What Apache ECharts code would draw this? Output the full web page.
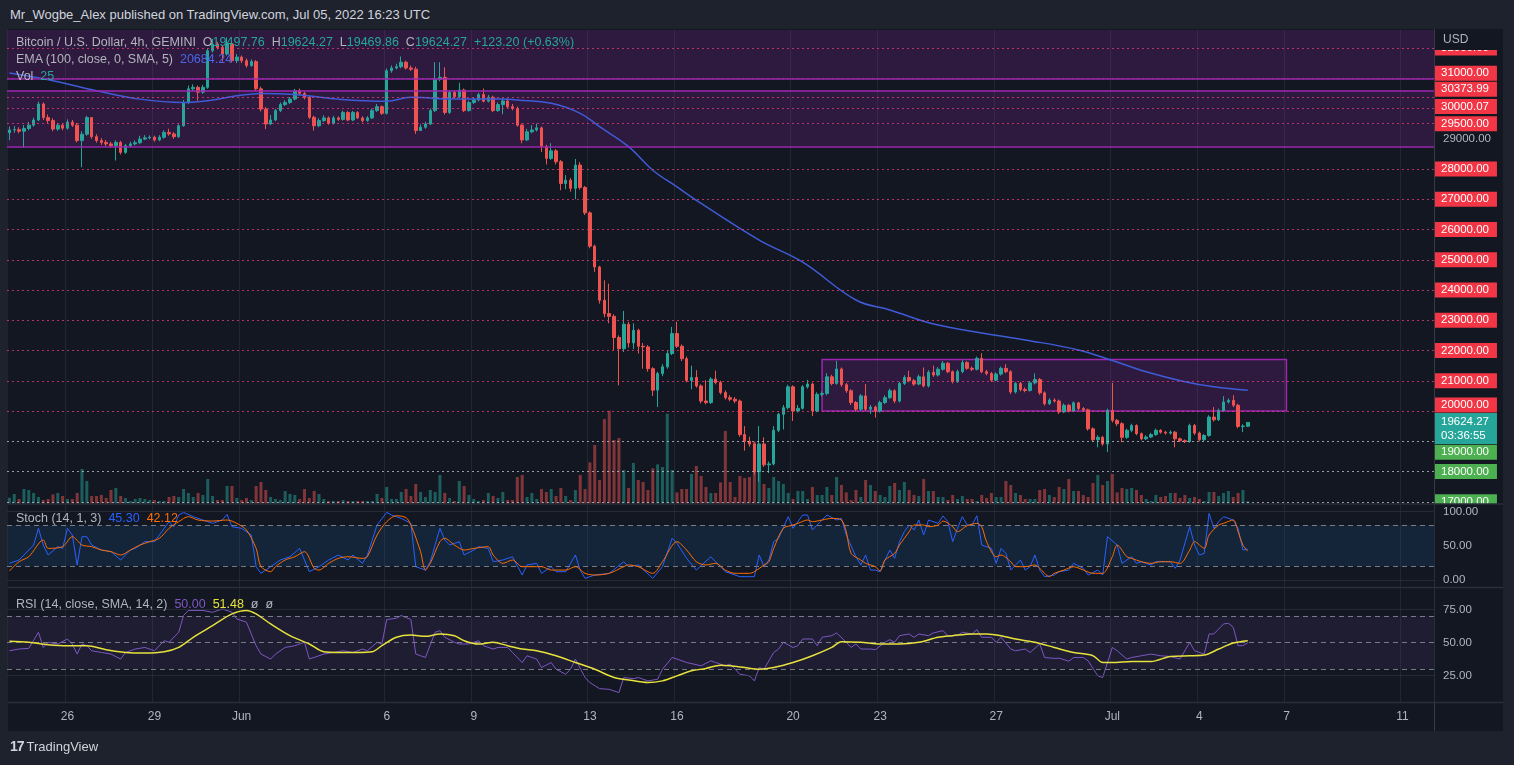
<!DOCTYPE html>
<html><head><meta charset="utf-8">
<script src="https://cdn.jsdelivr.net/npm/echarts@6/dist/echarts.min.js"></script>
<style>
html,body{margin:0;padding:0;background:#1e222d;width:1514px;height:765px;overflow:hidden;font-family:'Liberation Sans',Arial,sans-serif;}
#frame{position:absolute;left:8px;top:29px;width:1495px;height:702px;background:#131722;}
#chart{position:absolute;left:0;top:0;width:1514px;height:765px;}
.t{position:absolute;white-space:pre;font-size:12.5px;line-height:15px;color:#b2b5be;}
#title{position:absolute;left:10px;top:7px;font-size:13px;color:#d1d4dc;white-space:pre;}
#logo{position:absolute;left:10px;top:738px;font-size:13px;color:#d1d4dc;white-space:pre;}
#logo b{font-size:14px;letter-spacing:-1px;margin-right:3px;}
</style></head><body>
<div id="title">Mr_Wogbe_Alex published on TradingView.com, Jul 05, 2022 16:23 UTC</div>
<div id="frame"></div>
<div id="chart"></div>
<div class="t" id="lg1" style="left:16px;top:35px;"></div>
<div class="t" id="lg2" style="left:16px;top:52px;"></div>
<div class="t" id="lg3" style="left:16px;top:69px;"></div>
<div class="t" id="lg4" style="left:16px;top:511px;"></div>
<div class="t" id="lg5" style="left:16px;top:597px;"></div>
<div id="logo"><b>17</b>TradingView</div>
<script>
// ---------------- DATA ----------------
const closes = [
29290,29300,29250,29340,29450,29620,30150,29700,29600,29320,
29450,29350,29550,29450,28940,29150,29700,29070,28940,28880,
28830,28770,28880,28550,28770,28830,28870,28990,29030,29050,
28960,29050,29210,29160,29070,29430,30200,30650,30700,30540,
30700,31910,32130,32020,31800,32130,31580,31700,31580,31420,
31550,30650,29980,29490,29620,29930,30130,30200,30310,30590,
30500,30370,29710,29430,29600,29690,29510,29690,29640,29870,
29620,29870,29690,29600,29690,29930,30060,29840,31250,31340,
31380,31530,31340,31300,29270,29380,29490,29930,30970,31030,
29870,30530,30390,30610,29930,30200,30280,30460,30240,30370,
29930,30130,30250,30060,30000,29450,28960,29230,29290,29360,
28740,28350,28600,28240,27520,27630,27360,28130,27390,26550,
25450,24760,23660,23220,23130,22430,22060,22870,22250,22670,
22140,22120,21400,20690,21240,21460,21900,22560,22140,21730,
21010,21110,20830,20330,20280,21055,20940,20610,20440,20390,
20330,19220,19000,18910,18000,18910,18220,18250,19360,19890,
20110,20800,20000,20090,20800,20890,20000,20550,20580,21130,
20910,21390,20870,20670,20280,20060,20500,20060,20130,20000,
20280,20440,20670,20330,20910,21110,21000,20890,21130,20830,
21280,21190,21380,21580,21300,20970,21300,21600,21410,21380,
21740,21300,21240,21020,21220,21410,21300,20630,20910,20710,
20680,20930,21040,20600,20240,20360,20330,19970,20190,20000,
20270,20080,20040,19410,19050,19130,18910,20020,19690,19580,
19130,19360,19520,19250,19080,19140,19220,19360,19300,19270,
19300,19080,19020,18990,19520,19270,19050,19190,19800,19710,
20020,20300,20350,20190,19490,19501.07,19624.27];
const highs = [
29400,29420,29380,29450,29560,29700,30230,30200,29800,29680,
29520,29500,29640,29620,29520,29250,29760,29720,29150,29020,
28960,28900,28950,28930,28830,28900,28950,29100,29120,29110,
29100,29120,29280,29330,29220,29480,30280,30760,30800,30760,
30780,31980,32300,32200,32080,32350,32200,31800,31750,31650,
31620,31600,30720,30050,29780,29990,30200,30280,30380,30650,
30660,30560,30420,29760,29680,29780,29740,29760,29740,29930,
29910,29920,29910,29740,29750,30000,30150,30100,31320,31420,
31480,31720,31580,31420,31380,29480,29560,30000,31530,31530,
31360,30590,30600,30850,30660,30260,30350,30520,30660,30450,
30420,30200,30330,30330,30150,30060,29500,29330,29450,29500,
29400,28800,28850,28660,28300,27800,27700,28330,28230,27440,
26600,25500,24800,24320,24210,23200,22500,23310,22950,22900,
22720,22250,22180,21450,21300,21550,22000,22780,22950,22200,
21800,21500,21350,20880,21020,21120,21330,21000,20680,20520,
20460,20380,19500,19150,18960,19500,19130,18330,19500,19940,
20200,20870,20850,20200,20860,21030,20940,20620,20650,21250,
21200,21660,21440,20930,20720,20330,20560,20890,20200,20180,
20340,20520,20740,20720,20960,21180,21330,21060,21200,21440,
21350,21500,21450,21650,21620,21340,21370,21680,21650,21470,
21800,21910,21360,21290,21280,21470,21550,21350,20960,20960,
20780,20990,21240,21090,20650,20420,20420,20380,20250,20230,
20320,20300,20130,20080,19460,19200,19180,20080,20930,19740,
19630,19420,19580,19560,19290,19200,19280,19420,19400,19340,
19360,19340,19120,19060,19580,19570,19320,19240,19860,20130,
20080,20490,20420,20520,20240,19560,19624.27];
const lows = [
28950,29200,29180,28700,29280,29400,29580,29620,29500,29250,
29260,29280,29300,29390,28880,28060,29100,29000,28870,28800,
28760,28700,28280,28480,28500,28720,28780,28820,28950,28980,
28900,28920,29000,29100,29000,29030,29400,30150,30580,30260,
30480,30650,31850,31950,31550,31750,31520,31500,31500,31350,
31380,30580,29900,29320,29450,29580,29880,30080,30150,30270,
30440,30300,29650,29270,29380,29550,29460,29470,29590,29600,
29580,29580,29650,29540,29560,29650,29890,29790,29800,31180,
31290,31330,31290,31240,29160,29270,29330,29450,29880,30900,
29800,29820,30330,30350,29880,29900,30150,30230,30200,30200,
29880,29890,29810,30000,29940,29400,28850,28920,29180,29240,
28560,28150,28300,28150,27300,27330,27250,27000,27320,26480,
25380,24600,23550,23100,22900,22010,20850,21950,22100,22050,
21900,21400,21300,20500,20130,21150,21400,21850,22080,21650,
20950,20720,20770,20250,20220,20230,20880,20550,20380,20320,
20260,19150,18690,18820,17900,17670,18150,17950,18200,19300,
19390,20050,19670,19950,20050,20740,19830,19960,20480,20520,
20850,20870,20800,20600,20200,19990,20000,20000,19900,19780,
19950,20230,20400,20260,20280,20860,20950,20830,20850,20780,
20780,21130,21140,21330,21250,20910,20930,21250,21360,21320,
21340,21250,21180,20960,20980,21170,21250,20560,20580,20650,
20620,20640,20880,20540,20180,20200,20280,19900,19930,19950,
19960,20030,19990,19350,18990,18800,18850,18640,19620,19500,
18970,19080,19300,19200,19030,19040,19100,19180,19250,19220,
19220,18800,18970,18940,18950,19210,19000,19010,19150,19650,
19670,19980,20250,20130,19430,19300,19469.86];
const firstOpen = 29200;
const lastOpen = 19497.76;
const volumes = [
60,97,47,147,137,107,67,37,47,93,
107,77,47,47,107,347,227,77,77,87,
57,137,157,77,57,27,47,57,47,37,
37,27,27,67,77,67,147,107,67,107,
87,247,77,37,37,177,177,57,37,57,
37,177,217,137,67,47,37,127,97,87,
47,147,57,127,97,47,27,27,27,37,
27,27,27,27,27,27,97,57,167,47,
47,117,147,77,197,117,67,137,117,287,
107,57,27,227,177,87,47,27,37,107,
77,57,117,37,37,267,287,67,107,47,
147,117,147,77,157,77,37,137,287,147,
413,587,237,847,930,637,657,337,157,407,
237,217,137,353,393,367,900,337,113,147,
147,297,377,277,167,107,107,213,727,217,
67,277,257,267,620,560,197,157,267,227,
197,107,47,127,127,47,167,87,87,167,
87,267,187,113,37,137,67,237,187,127,
87,67,177,207,137,217,137,87,77,247,
127,127,67,67,37,87,47,77,47,47,
27,87,57,107,67,67,227,187,107,87,
47,47,47,137,147,87,67,167,147,247,
127,127,87,67,207,287,187,227,297,113,
157,147,157,137,87,47,27,87,67,77,
107,107,57,87,57,67,47,27,117,117,
77,107,127,67,107,137,25];
// EMA(100) line, read as [bar slot, price]
const emaPoints = [[0,31170],[9,30920],[18,30590],[27,30310],[36,30200],[41,30260],[47,30420],[52,30500],[59,30460],[68,30310],[78,30240],[83,30370],[92,30310],[102,30310],[105,30280],[112,30170],[118,29840],[122,29400],[128,28740],[133,27960],[138,27410],[143,26860],[155,25650],[164,24920],[175,23670],[182,23340],[192,22840],[210,22350],[221,22020],[228,21670],[235,21300],[243,20970],[249,20800],[256,20684.24]];
const stochK = [[0,24.4],[2,29.3],[3,36.6],[5,51.2],[6,75.6],[7,51.2],[8,36.6],[10,48.8],[11,46.3],[12,75.6],[13,65.9],[14,22.0],[15,63.4],[16,63.4],[17,51.2],[19,43.9],[21,41.5],[23,29.3],[25,43.9],[26,46.3],[28,56.1],[30,56.1],[32,75.6],[33,85.4],[34,78.0],[35,95.1],[36,99.0],[38,92.7],[40,87.8],[42,82.9],[44,87.8],[45,96.1],[46,78.0],[48,75.6],[50,65.9],[51,19.5],[52,9.8],[54,19.5],[56,29.3],[58,34.1],[60,46.3],[62,12.2],[64,19.5],[66,29.3],[68,36.6],[70,29.3],[71,36.6],[73,24.4],[74,36.6],[76,80.5],[78,99.0],[79,95.1],[81,90.2],[83,82.9],[84,19.5],[86,14.6],[87,26.8],[89,75.6],[90,58.5],[91,51.2],[93,56.1],[94,36.6],[96,43.9],[97,48.8],[99,46.3],[100,26.8],[102,29.3],[104,34.1],[106,7.3],[107,22.0],[109,24.4],[110,9.8],[112,19.5],[113,12.2],[115,12.2],[117,36.6],[118,14.6],[119,2.4],[121,7.3],[124,9.8],[127,26.8],[128,19.5],[130,22.0],[133,2.4],[135,19.5],[137,61.0],[138,53.7],[140,31.7],[142,14.6],[145,34.1],[146,26.8],[148,12.2],[151,4.9],[153,4.9],[154,4.9],[155,36.6],[156,19.5],[157,29.3],[158,56.1],[159,61.0],[161,92.7],[162,75.6],[164,95.1],[165,95.1],[166,73.2],[168,87.8],[169,95.1],[171,87.8],[172,90.2],[173,65.9],[175,34.1],[176,22.0],[177,36.6],[178,14.6],[179,14.6],[180,12.2],[181,29.3],[182,43.9],[183,31.7],[184,56.1],[185,70.7],[186,80.5],[187,73.2],[188,87.8],[189,65.9],[190,87.8],[192,82.9],[193,93.7],[194,85.4],[195,56.1],[196,75.6],[197,92.7],[198,80.5],[199,80.5],[200,94.1],[201,51.2],[203,46.3],[204,24.4],[205,46.3],[206,39.0],[207,14.6],[209,29.3],[210,14.6],[211,19.5],[212,36.6],[213,14.6],[214,4.9],[216,7.3],[217,12.2],[219,14.6],[220,24.4],[222,17.1],[223,7.3],[225,14.6],[226,7.3],[227,63.4],[229,51.2],[230,24.4],[232,34.1],[233,24.4],[234,26.8],[236,22.0],[237,26.8],[239,26.8],[240,26.8],[241,17.1],[242,29.3],[244,78.0],[245,51.2],[246,36.6],[247,39.0],[248,97.6],[249,75.6],[250,85.4],[251,92.7],[253,87.8],[254,75.6],[255,43.9],[256,45.30]];
const stochD = [[0,13.2],[2,26.8],[4,34.1],[7,58.5],[8,46.3],[11,48.8],[13,63.4],[15,51.2],[17,48.8],[19,43.9],[21,41.5],[23,36.6],[25,43.9],[27,51.2],[29,56.1],[31,61.0],[33,75.6],[35,85.4],[37,92.7],[39,87.8],[42,86.3],[45,87.8],[47,82.9],[49,73.2],[51,46.3],[52,19.5],[54,12.2],[55,19.5],[57,29.3],[59,34.1],[61,41.5],[63,17.1],[64,14.6],[66,24.4],[68,31.7],[70,34.1],[73,31.7],[74,34.1],[76,65.9],[78,85.4],[80,94.1],[82,91.2],[83,80.5],[85,41.5],[86,14.6],[87,24.4],[89,56.1],[90,61.0],[92,51.2],[94,43.9],[96,46.3],[99,48.8],[100,36.6],[102,24.4],[104,29.3],[106,19.5],[108,19.5],[110,19.5],[112,14.6],[115,14.6],[117,19.5],[119,9.8],[121,7.3],[124,9.8],[127,19.5],[128,22.0],[130,19.5],[133,9.8],[135,26.8],[138,56.1],[140,43.9],[142,26.8],[144,22.0],[146,24.4],[148,14.6],[150,9.8],[153,9.8],[154,12.2],[156,22.0],[157,26.8],[158,46.3],[160,75.6],[162,80.5],[163,82.9],[165,87.8],[166,85.4],[168,87.8],[170,90.2],[172,87.8],[173,70.7],[174,39.0],[176,29.3],[177,24.4],[179,19.5],[180,13.2],[181,29.3],[183,39.0],[184,51.2],[186,70.7],[187,80.5],[189,80.5],[190,78.0],[192,80.5],[193,86.3],[195,78.0],[196,70.7],[198,79.5],[200,82.9],[201,78.0],[202,56.1],[204,34.1],[205,36.6],[207,26.8],[208,19.5],[210,19.5],[212,22.0],[213,17.1],[215,4.9],[216,9.8],[218,14.6],[220,19.5],[222,14.6],[224,9.8],[226,9.8],[228,34.1],[229,51.2],[231,34.1],[232,31.7],[234,26.8],[236,24.4],[238,26.8],[240,26.8],[242,24.4],[244,43.9],[245,56.1],[247,46.3],[248,65.9],[250,80.5],[251,82.9],[253,87.8],[254,70.7],[255,51.2],[256,42.12]];
const rsi = [[0,43.9],[2,45.2],[4,45.7],[6,57.9],[7,46.4],[8,50.3],[10,49.0],[12,52.8],[13,49.0],[14,41.4],[15,49.0],[16,47.7],[17,43.9],[19,42.6],[21,41.4],[23,37.6],[24,42.6],[26,45.2],[28,46.4],[30,43.9],[32,51.5],[33,50.3],[35,57.9],[36,70.6],[37,74.4],[38,74.4],[40,74.4],[42,73.0],[44,75.5],[46,73.1],[47,68.0],[49,65.5],[51,47.7],[52,41.4],[54,37.6],[55,41.4],[57,46.4],[59,47.7],[61,50.3],[62,37.6],[64,40.1],[65,41.4],[67,42.6],[69,43.9],[71,42.6],[73,45.2],[74,43.9],[76,50.3],[77,49.0],[78,67.5],[80,68.5],[81,70.6],[83,67.5],[84,41.4],[85,40.1],[86,38.8],[88,57.9],[89,59.1],[90,54.1],[92,50.3],[93,49.0],[95,49.0],[97,51.5],[98,47.7],[100,45.2],[101,46.4],[103,46.4],[104,42.6],[106,35.0],[107,40.1],[109,37.6],[110,31.2],[112,35.0],[113,29.9],[115,26.1],[116,29.9],[117,37.6],[119,23.6],[120,19.8],[122,15.2],[124,14.7],[126,12.2],[127,23.6],[129,22.8],[130,23.6],[132,21.1],[134,22.3],[135,29.9],[137,38.8],[138,37.6],[140,35.0],[143,32.5],[145,36.3],[146,35.0],[148,32.5],[149,33.8],[151,26.1],[153,24.9],[154,21.1],[155,31.2],[156,29.9],[158,42.6],[159,45.2],[160,50.3],[162,46.4],[163,47.7],[164,52.8],[166,52.8],[167,47.7],[168,54.1],[170,55.3],[171,57.4],[173,50.3],[174,46.4],[175,49.0],[176,45.2],[178,45.2],[179,44.7],[181,50.3],[182,52.3],[183,50.3],[184,55.3],[186,56.6],[187,54.1],[188,56.6],[190,55.3],[191,57.4],[193,59.1],[194,55.3],[196,55.3],[197,57.9],[199,56.6],[200,59.9],[201,54.1],[203,54.1],[204,50.3],[205,54.1],[207,45.2],[208,43.9],[210,45.2],[211,42.6],[213,49.0],[214,38.8],[216,38.1],[217,38.3],[219,36.0],[220,38.8],[222,38.8],[223,36.3],[225,24.9],[226,23.6],[228,46.4],[229,43.9],[231,37.6],[232,38.8],[234,40.1],[236,41.4],[238,40.1],[240,39.6],[242,37.6],[244,50.3],[245,43.9],[247,41.4],[248,56.6],[249,56.6],[251,64.2],[252,64.7],[253,61.7],[254,47.7],[255,47.7],[256,50.00]];
const rsiSma = [[0,51.0],[4,50.3],[8,48.5],[12,47.7],[16,47.7],[20,44.7],[24,42.6],[28,42.1],[32,43.1],[35,46.4],[38,54.1],[42,62.9],[46,71.8],[49,74.4],[51,71.8],[54,64.2],[58,55.3],[62,49.0],[65,43.1],[68,42.6],[72,42.6],[75,43.1],[77,47.7],[80,54.1],[83,55.8],[86,54.8],[89,56.6],[92,55.3],[94,51.5],[97,49.0],[100,50.3],[103,47.7],[106,45.2],[109,43.9],[113,40.1],[117,35.0],[121,29.9],[125,23.6],[128,21.8],[132,19.8],[135,21.1],[138,24.9],[141,28.7],[144,30.5],[147,33.0],[149,32.5],[152,31.2],[155,29.9],[158,31.2],[162,35.0],[166,40.1],[170,46.4],[172,50.8],[176,50.3],[180,49.0],[184,49.0],[188,50.3],[192,54.1],[195,55.3],[199,56.6],[202,56.6],[205,55.3],[208,52.8],[212,50.3],[216,46.4],[220,42.6],[224,40.1],[226,35.0],[228,35.0],[232,35.8],[236,35.8],[240,39.6],[244,40.1],[247,40.6],[250,45.2],[253,49.7],[256,51.48]];
// horizontal price levels drawn on the chart, and zones
const priceLevels = [32000,31000,30373.99,30000.07,29500,28000,27000,26000,25000,24000,23000,22000,21000,20000,19000,18000,17000];
const zoneTop = [31000, 32595];
const zoneMid = [28750, 30600];
const zoneBox = {fromSlot:168, toSlot:264, low:20000, high:21700};
const countdown = '03:36:55';
const tickLabels = [
 ['2022-05-26 00:00','26'],['2022-05-29 00:00','29'],['2022-06-01 00:00','Jun'],['2022-06-06 00:00','6'],
 ['2022-06-09 00:00','9'],['2022-06-13 00:00','13'],['2022-06-16 00:00','16'],['2022-06-20 00:00','20'],
 ['2022-06-23 00:00','23'],['2022-06-27 00:00','27'],['2022-07-01 00:00','Jul'],['2022-07-04 00:00','4'],
 ['2022-07-07 00:00','7'],['2022-07-11 00:00','11']];
// ---------------- BUILD ----------------
const SLOT_MS = 4*3600*1000, START = Date.UTC(2022,4,24,0,0,0), SLOTS = 295;
const pad = n => String(n).padStart(2,'0');
const fmt = t => { const d = new Date(t); return d.getUTCFullYear()+'-'+pad(d.getUTCMonth()+1)+'-'+pad(d.getUTCDate())+' '+pad(d.getUTCHours())+':'+pad(d.getUTCMinutes()); };
const categories = Array.from({length:SLOTS}, (_,k) => fmt(START + k*SLOT_MS));
const tickMap = Object.fromEntries(tickLabels);
const isTick = (i, v) => tickMap[v] !== undefined;

const opens = closes.map((c,i) => i === 0 ? firstOpen : closes[i-1]);
opens[opens.length-1] = lastOpen;
const N = closes.length;
const lastClose = closes[N-1];
const UP = '#26a69a', DOWN = '#ef5350';
const FONT = "'Liberation Sans', Arial, sans-serif";
const BG = '#131722';
const PURPLE = '#9c27b0';

const candleData = closes.map((c,i) => [opens[i], c, lows[i], highs[i]]);
const volData = volumes.map((v,i) => ({value:v, itemStyle:{color: closes[i] >= opens[i] ? 'rgba(38,166,154,0.5)' : 'rgba(239,83,80,0.5)'}}));

const labelShift = {31000:-5, 30373.99:-8, 30000.07:-2, 20000:-6, 19000:11};
const levelLines = priceLevels.map(p => {
  const above = p > lastClose;
  return {yAxis:p,
    lineStyle:{color: above ? 'rgba(233,62,120,0.75)' : 'rgba(210,212,220,0.7)', type:[2,3], width:1},
    label:{formatter: p.toFixed(2), backgroundColor: above ? '#f23645' : '#4caf50', offset:[0, labelShift[p] || 0]}};
});
// solid borders of the two full-width zones
[zoneTop[0], zoneMid[0], zoneMid[1]].forEach(p => levelLines.push({yAxis:p, lineStyle:{color:PURPLE, type:'solid', width:1.5}, label:{show:false}}));
levelLines.push({yAxis:lastClose, lineStyle:{color:'rgba(0,0,0,0)', width:0},
  label:{show:true, formatter: lastClose.toFixed(2)+'\n'+countdown, backgroundColor:'#26a69a', offset:[0,6], lineHeight:14, padding:[2,8,1,6]}});

function xAx(gi, showLabel){
  return {type:'category', gridIndex:gi, data:categories, boundaryGap:true,
    axisLine:{show:false}, axisTick:{show:false},
    axisLabel:{show:showLabel, interval:isTick, formatter:v => tickMap[v] || '', color:'#b2b5be', fontSize:12, margin:9, fontFamily:FONT},
    splitLine:{show:true, interval:isTick, lineStyle:{color:'rgba(54,58,69,0.45)', width:1}}};
}
function yAx(gi, min, max, labels, extra){
  return Object.assign({type:'value', gridIndex:gi, position:'right', min, max, scale:true,
    axisLine:{show:true, lineStyle:{color:'#2a2e39'}}, axisTick:{show:false},
    splitLine:{show:false},
    axisLabel:{show:labels.length>0, customValues:labels, formatter:v => Number(v).toFixed(2), color:'#b2b5be', fontSize:11.5, margin:9, fontFamily:FONT}}, extra||{});
}
const dashed = {type:[5,4], color:'#787b86', width:1};
const faint = {type:'solid', color:'rgba(54,58,69,0.55)', width:1};
const hl = (v, st) => ({yAxis:v, lineStyle:st});

const chart = echarts.init(document.getElementById('chart'), null, {renderer:'canvas'});
chart.setOption({
  animation:false,
  backgroundColor:'transparent',
  textStyle:{fontFamily:FONT},
  grid:[
    {left:7, width:1427, top:30, height:473.7},
    {left:7, width:1427, top:504.5, height:82.5},
    {left:7, width:1427, top:588, height:114}
  ],
  xAxis:[xAx(0,false), xAx(1,false), xAx(2,true)],
  yAxis:[
    yAx(0, 16936, 32595, [29000]),
    {type:'value', gridIndex:0, show:false, min:0, max:4737},
    yAx(1, -10.2, 110.5, [0,50,100], {z:60}),
    yAx(2, 5.1, 91.4, [25,50,75], {z:60})
  ],
  graphic:[
    {type:'rect', z:50, shape:{x:1435, y:30, width:68, height:20}, style:{fill:BG}},
    {type:'text', z:51, x:1443, y:34, style:{text:'USD', fill:'#b2b5be', font:"12px 'Liberation Sans', Arial"}},
    {type:'rect', z:50, shape:{x:1435, y:504, width:68, height:16}, style:{fill:BG}},
    {type:'line', z:55, shape:{x1:8, y1:504, x2:1503, y2:504}, style:{stroke:'#2a2e39', lineWidth:1.5}},
    {type:'line', z:55, shape:{x1:8, y1:587.5, x2:1503, y2:587.5}, style:{stroke:'#2a2e39', lineWidth:1.5}},
    {type:'line', z:55, shape:{x1:8, y1:702.5, x2:1503, y2:702.5}, style:{stroke:'#2a2e39', lineWidth:1.5}},
    {type:'line', z:55, shape:{x1:1434.5, y1:29, x2:1434.5, y2:731}, style:{stroke:'#363a45', lineWidth:1}}
  ],
  series:[
    {type:'bar', name:'Vol', xAxisIndex:0, yAxisIndex:1, data:volData, barWidth:3, z:1, silent:true},
    {type:'candlestick', name:'BTCUSD', xAxisIndex:0, yAxisIndex:0, data:candleData, barWidth:3, z:3,
      itemStyle:{color:UP, color0:DOWN, borderColor:UP, borderColor0:DOWN, borderWidth:1},
      markArea:{silent:true, data:[
        [{yAxis:zoneTop[0], itemStyle:{color:'rgba(156,39,176,0.2)', borderWidth:0}},{yAxis:zoneTop[1]}],
        [{yAxis:zoneMid[0], itemStyle:{color:'rgba(156,39,176,0.2)', borderWidth:0}},{yAxis:zoneMid[1]}],
        [{xAxis:categories[zoneBox.fromSlot], yAxis:zoneBox.low, itemStyle:{color:'rgba(156,39,176,0.2)', borderColor:PURPLE, borderWidth:1.5}},{xAxis:categories[zoneBox.toSlot], yAxis:zoneBox.high}]
      ]},
      markLine:{silent:true, symbol:['none','none'], animation:false,
        label:{show:true, position:'end', distance:1, color:'#fff', fontSize:11.5, padding:[2,8,1,6], fontFamily:FONT},
        data:levelLines}
    },
    {type:'line', name:'EMA', xAxisIndex:0, yAxisIndex:0, data:emaPoints, smooth:0.4, showSymbol:false, z:4,
      lineStyle:{color:'#3f5bd8', width:1.5}},
    {type:'line', name:'%K', xAxisIndex:1, yAxisIndex:2, data:stochK, showSymbol:false, z:4,
      lineStyle:{color:'#2962ff', width:1},
      markArea:{silent:true, itemStyle:{color:'rgba(33,150,243,0.11)'}, data:[[{yAxis:20},{yAxis:80}]]},
      markLine:{silent:true, symbol:['none','none'], label:{show:false}, data:[hl(80,dashed), hl(20,dashed), hl(0,faint), hl(100,faint)]}},
    {type:'line', name:'%D', xAxisIndex:1, yAxisIndex:2, data:stochD, smooth:0.3, showSymbol:false, z:5,
      lineStyle:{color:'#ff6d00', width:1}},
    {type:'line', name:'RSI', xAxisIndex:2, yAxisIndex:3, data:rsi, showSymbol:false, z:4,
      lineStyle:{color:'#7e57c2', width:1},
      markArea:{silent:true, itemStyle:{color:'rgba(126,87,194,0.1)'}, data:[[{yAxis:30},{yAxis:70}]]},
      markLine:{silent:true, symbol:['none','none'], label:{show:false}, data:[hl(70,dashed), hl(50,dashed), hl(30,dashed), hl(25,faint), hl(75,faint)]}},
    {type:'line', name:'RSI SMA', xAxisIndex:2, yAxisIndex:3, data:rsiSma, smooth:0.3, showSymbol:false, z:5,
      lineStyle:{color:'#e8e23c', width:1.5}}
  ]
});

// legends (text)
const g = s => '<span style="color:#b2b5be">'+s+'</span>';
const c = (s,col) => '<span style="color:'+col+'">'+s+'</span>';
const T = '#26a69a';
const chg = lastClose - closes[N-2];
document.getElementById('lg1').innerHTML = g('Bitcoin / U.S. Dollar, 4h, GEMINI  O')+c(opens[N-1].toFixed(2),T)+g('  H')+c(highs[N-1].toFixed(2),T)+g('  L')+c(lows[N-1].toFixed(2),T)+g('  C')+c(lastClose.toFixed(2),T)+c('  +'+chg.toFixed(2)+' (+'+(chg/closes[N-2]*100).toFixed(2)+'%)',T);
document.getElementById('lg2').innerHTML = g('EMA (100, close, 0, SMA, 5)  ')+c(emaPoints[emaPoints.length-1][1].toFixed(2),'#4a66e8');
document.getElementById('lg3').innerHTML = g('Vol  ')+c(String(volumes[N-1]),T);
document.getElementById('lg4').innerHTML = g('Stoch (14, 1, 3)  ')+c(stochK[stochK.length-1][1].toFixed(2),'#2962ff')+'  '+c(stochD[stochD.length-1][1].toFixed(2),'#ff6d00');
document.getElementById('lg5').innerHTML = g('RSI (14, close, SMA, 14, 2)  ')+c(rsi[rsi.length-1][1].toFixed(2),'#7e57c2')+'  '+c(rsiSma[rsiSma.length-1][1].toFixed(2),'#e8e23c')+g('  ø  ø');
</script>
</body></html>
